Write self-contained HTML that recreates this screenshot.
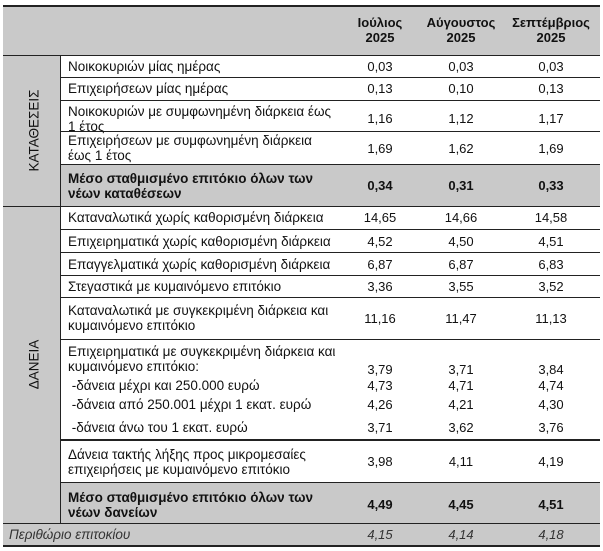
<!DOCTYPE html>
<html>
<head>
<meta charset="utf-8">
<style>
  html, body { margin:0; padding:0; background:#fff; }
  body { width:603px; height:551px; position:relative; overflow:hidden;
         font-family:"Liberation Sans", Arial, sans-serif; font-size:13px; color:#111; }
  .bg { position:absolute; background:#c9c9c9; }
  .h { position:absolute; height:1px; background:#222; }
  .v { position:absolute; width:1px; background:#222; }
  .t { position:absolute; line-height:15px; white-space:nowrap; }
  .lab { left:68px; font-size:13.5px; }
  .c1, .c2, .c3 { width:90px; text-align:center; }
  .c1 { left:335px; }
  .c2 { left:416px; }
  .c3 { left:506px; }
  .b { font-weight:bold; }
  .i { font-style:italic; color:#333; }
  .rot { position:absolute; transform:rotate(-90deg); white-space:nowrap; line-height:15px; width:120px; text-align:center; font-size:13.5px; }
</style>
</head>
<body>
<!-- backgrounds -->
<div class="bg" style="left:3px;top:6px;width:597px;height:49px;"></div>
<div class="bg" style="left:3px;top:55px;width:58px;height:468px;"></div>
<div class="bg" style="left:61px;top:164px;width:539px;height:42px;"></div>
<div class="bg" style="left:61px;top:482px;width:539px;height:41px;"></div>
<div class="bg" style="left:3px;top:523px;width:597px;height:23px;"></div>

<!-- horizontal lines -->
<div class="h" style="left:3px;top:5px;width:597px;height:2px;"></div>
<div class="h" style="left:3px;top:55px;width:597px;"></div>
<div class="h" style="left:61px;top:77px;width:539px;"></div>
<div class="h" style="left:61px;top:100px;width:539px;"></div>
<div class="h" style="left:61px;top:131px;width:539px;"></div>
<div class="h" style="left:61px;top:164px;width:539px;"></div>
<div class="h" style="left:3px;top:206px;width:597px;"></div>
<div class="h" style="left:61px;top:229px;width:539px;"></div>
<div class="h" style="left:61px;top:252px;width:539px;"></div>
<div class="h" style="left:61px;top:275px;width:539px;"></div>
<div class="h" style="left:61px;top:297px;width:539px;"></div>
<div class="h" style="left:61px;top:339px;width:539px;"></div>
<div class="h" style="left:61px;top:439px;width:539px;height:2px;"></div>
<div class="h" style="left:61px;top:482px;width:539px;"></div>
<div class="h" style="left:3px;top:523px;width:597px;"></div>
<div class="h" style="left:3px;top:545px;width:597px;height:2px;"></div>

<!-- vertical divider -->
<div class="v" style="left:60px;top:55px;height:468px;"></div>

<!-- header -->
<div class="t b c1" style="top:16px;line-height:14.5px;">Ιούλιος<br>2025</div>
<div class="t b c2" style="top:16px;line-height:14.5px;">Αύγουστος<br>2025</div>
<div class="t b c3" style="top:16px;line-height:14.5px;">Σεπτέμβριος<br>2025</div>

<!-- category labels -->
<div class="rot" style="left:-26px;top:123px;">ΚΑΤΑΘΕΣΕΙΣ</div>
<div class="rot" style="left:-26px;top:357px;">ΔΑΝΕΙΑ</div>

<!-- deposits -->
<div class="t lab" style="top:58.5px;">Νοικοκυριών μίας ημέρας</div>
<div class="t c1" style="top:58.5px;">0,03</div><div class="t c2" style="top:58.5px;">0,03</div><div class="t c3" style="top:58.5px;">0,03</div>

<div class="t lab" style="top:81px;">Επιχειρήσεων μίας ημέρας</div>
<div class="t c1" style="top:81px;">0,13</div><div class="t c2" style="top:81px;">0,10</div><div class="t c3" style="top:81px;">0,13</div>

<div class="t lab" style="top:103.5px;">Νοικοκυριών με συμφωνημένη διάρκεια έως<br>1 έτος</div>
<div class="t c1" style="top:110.5px;">1,16</div><div class="t c2" style="top:110.5px;">1,12</div><div class="t c3" style="top:110.5px;">1,17</div>

<div class="t lab" style="top:133px;">Επιχειρήσεων με συμφωνημένη διάρκεια<br>έως 1 έτος</div>
<div class="t c1" style="top:140.5px;">1,69</div><div class="t c2" style="top:140.5px;">1,62</div><div class="t c3" style="top:140.5px;">1,69</div>

<div class="t lab b" style="top:170.5px;">Μέσο σταθμισμένο επιτόκιο όλων των<br>νέων καταθέσεων</div>
<div class="t b c1" style="top:178px;">0,34</div><div class="t b c2" style="top:178px;">0,31</div><div class="t b c3" style="top:178px;">0,33</div>

<!-- loans -->
<div class="t lab" style="top:210px;">Καταναλωτικά χωρίς καθορισμένη διάρκεια</div>
<div class="t c1" style="top:210px;">14,65</div><div class="t c2" style="top:210px;">14,66</div><div class="t c3" style="top:210px;">14,58</div>

<div class="t lab" style="top:233.5px;">Επιχειρηματικά χωρίς καθορισμένη διάρκεια</div>
<div class="t c1" style="top:233.5px;">4,52</div><div class="t c2" style="top:233.5px;">4,50</div><div class="t c3" style="top:233.5px;">4,51</div>

<div class="t lab" style="top:256.5px;">Επαγγελματικά χωρίς καθορισμένη διάρκεια</div>
<div class="t c1" style="top:256.5px;">6,87</div><div class="t c2" style="top:256.5px;">6,87</div><div class="t c3" style="top:256.5px;">6,83</div>

<div class="t lab" style="top:278.5px;">Στεγαστικά με κυμαινόμενο επιτόκιο</div>
<div class="t c1" style="top:278.5px;">3,36</div><div class="t c2" style="top:278.5px;">3,55</div><div class="t c3" style="top:278.5px;">3,52</div>

<div class="t lab" style="top:303px;">Καταναλωτικά με συγκεκριμένη διάρκεια και<br>κυμαινόμενο επιτόκιο</div>
<div class="t c1" style="top:310.5px;">11,16</div><div class="t c2" style="top:310.5px;">11,47</div><div class="t c3" style="top:310.5px;">11,13</div>

<div class="t lab" style="top:344px;">Επιχειρηματικά με συγκεκριμένη διάρκεια και<br>κυμαινόμενο επιτόκιο:</div>
<div class="t c1" style="top:361.5px;">3,79</div><div class="t c2" style="top:361.5px;">3,71</div><div class="t c3" style="top:361.5px;">3,84</div>

<div class="t lab" style="top:377.5px;">&nbsp;-δάνεια μέχρι και 250.000 ευρώ</div>
<div class="t c1" style="top:377.5px;">4,73</div><div class="t c2" style="top:377.5px;">4,71</div><div class="t c3" style="top:377.5px;">4,74</div>

<div class="t lab" style="top:397px;">&nbsp;-δάνεια από 250.001 μέχρι 1 εκατ. ευρώ</div>
<div class="t c1" style="top:397px;">4,26</div><div class="t c2" style="top:397px;">4,21</div><div class="t c3" style="top:397px;">4,30</div>

<div class="t lab" style="top:419.5px;">&nbsp;-δάνεια άνω του 1 εκατ. ευρώ</div>
<div class="t c1" style="top:419.5px;">3,71</div><div class="t c2" style="top:419.5px;">3,62</div><div class="t c3" style="top:419.5px;">3,76</div>

<div class="t lab" style="top:447px;">Δάνεια τακτής λήξης προς μικρομεσαίες<br>επιχειρήσεις με κυμαινόμενο επιτόκιο</div>
<div class="t c1" style="top:454px;">3,98</div><div class="t c2" style="top:454px;">4,11</div><div class="t c3" style="top:454px;">4,19</div>

<div class="t lab b" style="top:489.5px;">Μέσο σταθμισμένο επιτόκιο όλων των<br>νέων δανείων</div>
<div class="t b c1" style="top:496.5px;">4,49</div><div class="t b c2" style="top:496.5px;">4,45</div><div class="t b c3" style="top:496.5px;">4,51</div>

<!-- margin -->
<div class="t i" style="left:9px;top:527px;font-size:13.5px;">Περιθώριο επιτοκίου</div>
<div class="t i c1" style="top:527px;">4,15</div><div class="t i c2" style="top:527px;">4,14</div><div class="t i c3" style="top:527px;">4,18</div>
</body>
</html>
